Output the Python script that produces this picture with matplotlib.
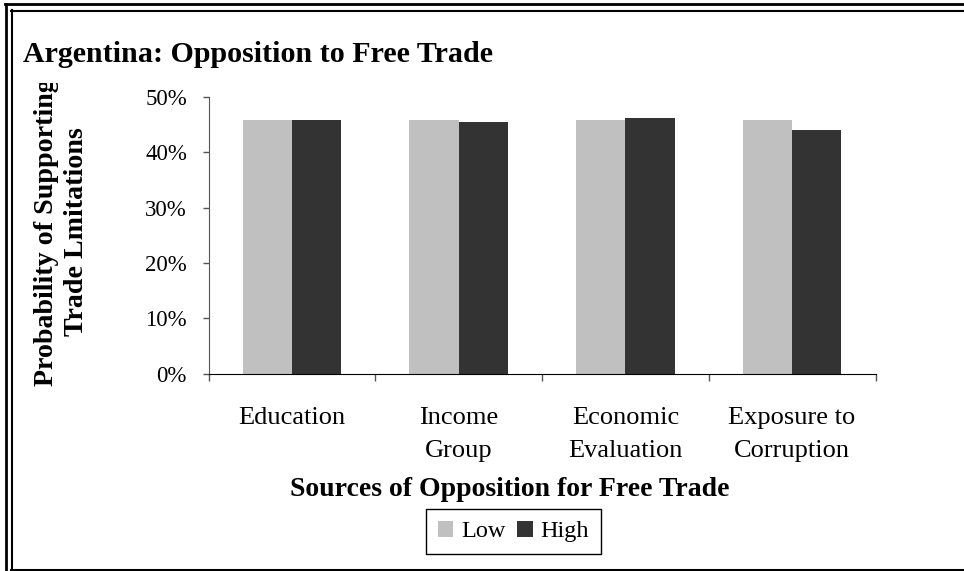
import matplotlib
matplotlib.use("Agg")
import matplotlib.pyplot as plt
import numpy as np
from matplotlib.lines import Line2D
from matplotlib.patches import Rectangle

categories = ["Education", "Income\nGroup", "Economic\nEvaluation", "Exposure to\nCorruption"]
low_values = [0.459, 0.459, 0.459, 0.459]
high_values = [0.459, 0.455, 0.462, 0.440]
series_names = ["Low", "High"]
y_ticks = [0.0, 0.1, 0.2, 0.3, 0.4, 0.5]
y_tick_labels = ["0%", "10%", "20%", "30%", "40%", "50%"]

W, H = 964, 571
plt.rcParams['font.family'] = ['Liberation Serif', 'DejaVu Serif']
fig = plt.figure(figsize=(W / 100, H / 100), dpi=100)

def fx(px):
    return px / W

def fy(py):
    return 1 - py / H

ax_left, ax_right, ax_top, ax_bottom = 208.5, 875.5, 97, 373.5
ax = fig.add_axes([fx(ax_left), fy(ax_bottom), fx(ax_right - ax_left), (ax_bottom - ax_top) / H])

x = np.arange(len(categories))
bw = 0.295
ax.bar(x - bw / 2, low_values, width=bw, color="#C0C0C0", label=series_names[0], linewidth=0)
ax.bar(x + bw / 2, high_values, width=bw, color="#333333", label=series_names[1], linewidth=0)

ax.set_xlim(-0.5, len(categories) - 0.5)
ax.set_ylim(0, 0.5)
ax.set_yticks(y_ticks)
ax.set_yticklabels(y_tick_labels, fontsize=16.5)
ax.tick_params(axis='y', direction='out', length=4.5, width=1, color='#555555', pad=11)
ax.set_xticks(x)
ax.set_xticklabels(categories, fontsize=19)
ax.tick_params(axis='x', which='major', length=0, pad=24)
for t in ax.get_xticklabels():
    t.set_linespacing(1.68)
ax.set_xticks(np.arange(-0.5, len(categories), 1.0), minor=True)
ax.tick_params(axis='x', which='minor', direction='out', length=5, width=1, color='#555555')
for s in ['top', 'right']:
    ax.spines[s].set_visible(False)
ax.spines['left'].set_color('#555555')
ax.spines['bottom'].set_color('#000000')

# Title
fig.text(fx(23), fy(62.5), "Argentina: Opposition to Free Trade", fontsize=21.6, fontweight='bold',
         ha='left', va='baseline')

# Y label (clipped at top like the original)
yl = fig.text(fx(61.5), fy(232), "Probability of Supporting\nTrade Lmitations", fontsize=20.2,
              fontweight='bold', rotation=90, ha='center', va='center', multialignment='center',
              linespacing=1.3)
clip = Rectangle((0, 0), W, H - 83, transform=None)
yl.set_clip_path(clip)

# X label
fig.text(fx(510), fy(490), "Sources of Opposition for Free Trade", fontsize=20, fontweight='bold',
         ha='center', va='center')

# Legend
leg = fig.legend(loc='center', bbox_to_anchor=(fx(513.3), fy(531.5)), ncol=2, fontsize=17.5,
                 frameon=True, fancybox=False, edgecolor='black', framealpha=1,
                 handlelength=0.65, handleheight=0.65, handletextpad=0.3, columnspacing=0.5,
                 borderpad=0.5, borderaxespad=0)
leg.get_frame().set_linewidth(1.0)

# Double border (cropped at right and bottom)
def hline(y, x0, x1, lw):
    fig.add_artist(Line2D([fx(x0), fx(x1)], [fy(y), fy(y)], color='black', linewidth=lw, transform=fig.transFigure))

def vline(xp, y0, y1, lw):
    fig.add_artist(Line2D([fx(xp), fx(xp)], [fy(y0), fy(y1)], color='black', linewidth=lw, transform=fig.transFigure))

hline(4.2, 5, W, 2.0)
vline(6.2, 3.5, H, 2.0)
hline(10.8, 11, W, 1.5)
vline(11.5, 10, 569, 1.5)
hline(569.5, 11, W, 2.2)

fig.savefig("out.png", dpi=100)
